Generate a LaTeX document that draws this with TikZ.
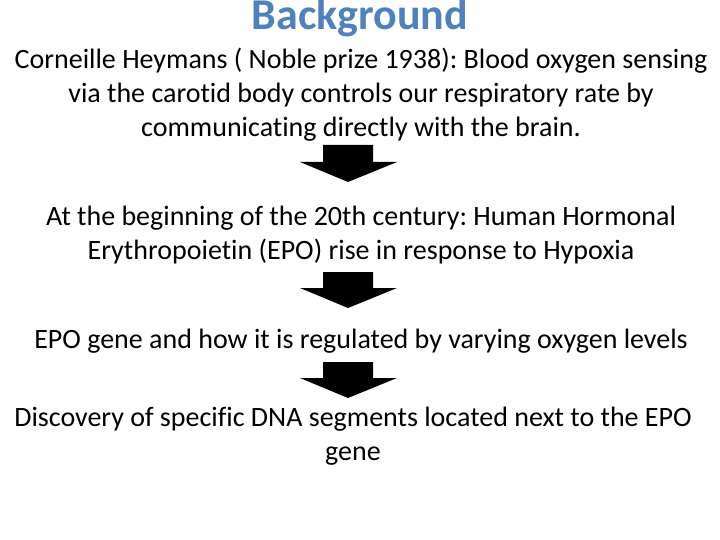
\documentclass[tikz,border=0pt]{standalone}
\usepackage{fontspec}
\setmainfont{Carlito}[Ligatures=NoCommon]
\usepackage{tikz}
\usetikzlibrary{positioning}
\definecolor{titleblue}{RGB}{79,129,189}
\frenchspacing

\begin{document}
\begin{tikzpicture}[x=1pt,y=-1pt,
  stage text/.style={align=center,font=\fontsize{28}{34}\selectfont,inner sep=0pt},
  down arrow/.style={fill=black,draw=none}]
\useasboundingbox (0,0) rectangle (720,540);
\node [anchor=base,font=\fontsize{44}{50}\selectfont\bfseries,text=titleblue] (title) at (360,30) {Background};
\node [stage text] (heymans) at (361,94.5) {Corneille Heymans ( Noble prize 1938): Blood oxygen sensing\\via the carotid body controls our respiratory rate by\\communicating directly with the brain.};
\node [stage text] (epo) at (361,235) {At the beginning of the 20th century: Human Hormonal\\Erythropoietin (EPO) rise in response to Hypoxia};
\node [stage text] (gene) at (361,341.5) {EPO gene and how it is regulated by varying oxygen levels};
\node [stage text] (dna) at (353,436.5) {Discovery of specific DNA segments located next to the EPO\\gene};
% block arrows
\fill [down arrow] (323,145) -- (373,145) -- (373,162) -- (397,162) -- (348,182) -- (300,162) -- (323,162) -- cycle;
\fill [down arrow] (323,272) -- (373,272) -- (373,288) -- (397,288) -- (348,308) -- (300,288) -- (323,288) -- cycle;
\fill [down arrow] (323,362) -- (373,362) -- (373,378) -- (397,378) -- (348,398) -- (300,378) -- (323,378) -- cycle;
\end{tikzpicture}
\end{document}
